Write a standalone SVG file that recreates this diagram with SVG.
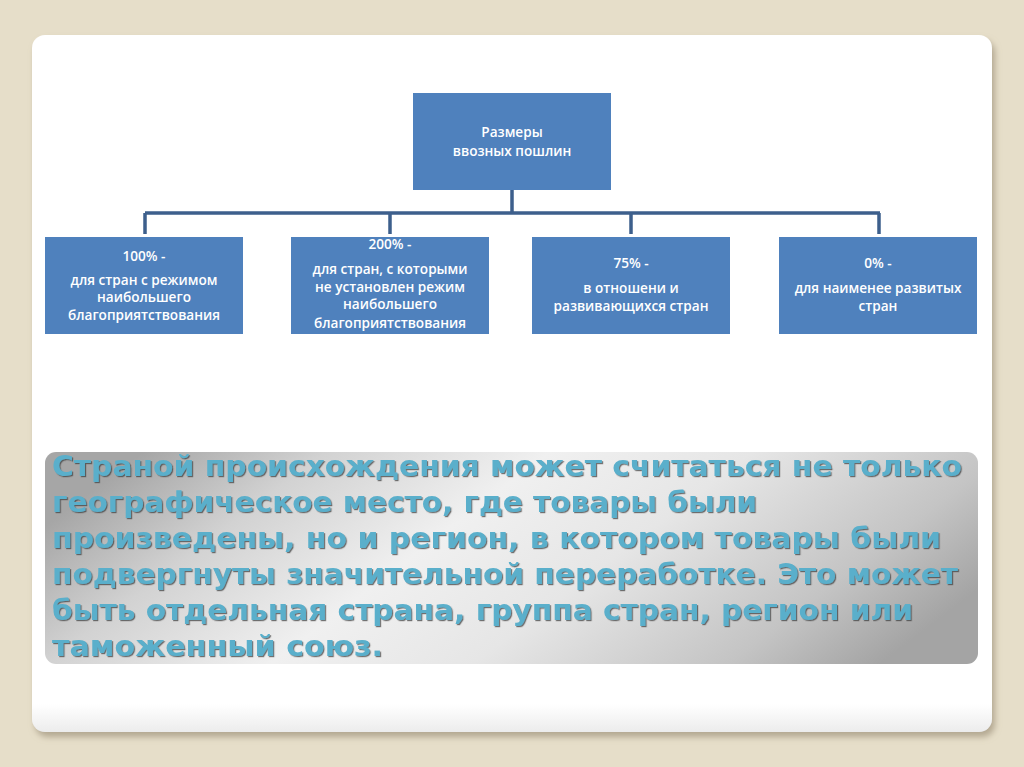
<svg xmlns="http://www.w3.org/2000/svg" width="1024" height="767" viewBox="0 0 1024 767">
<defs>
<style>
.box{fill:#4F81BD;}
.bt{fill:#FFFFFF;font-family:"Open Sans","Liberation Sans",sans-serif;font-size:13.6px;font-weight:600;text-anchor:middle;}
.conn{stroke:#3D5F8C;stroke-width:3.5;fill:none;}
.big{fill:#5AAFCB;font-family:"DejaVu Sans","Liberation Sans",sans-serif;font-weight:bold;font-size:28px;}
</style>
<filter id="cardShadow" x="-5%" y="-5%" width="110%" height="110%">
<feDropShadow dx="3" dy="5" stdDeviation="3" flood-color="#9E927A" flood-opacity="0.7"/>
</filter>
<filter id="txtShadow" x="-5%" y="-10%" width="110%" height="130%">
<feDropShadow dx="1.2" dy="1.2" stdDeviation="0.6" flood-color="#3A3A3A" flood-opacity="0.7"/>
</filter>
<linearGradient id="panelGrad" x1="0" y1="0.35" x2="1" y2="0.65">
<stop offset="0" stop-color="#A6A6A6"/>
<stop offset="0.18" stop-color="#D2D2D2"/>
<stop offset="0.4" stop-color="#F0F0F0"/>
<stop offset="0.6" stop-color="#E6E6E6"/>
<stop offset="0.85" stop-color="#C4C4C4"/>
<stop offset="1" stop-color="#A4A4A4"/>
</linearGradient>
<linearGradient id="cardGrad" x1="0" y1="0" x2="0" y2="1">
<stop offset="0.96" stop-color="#FFFFFF"/>
<stop offset="1" stop-color="#ECECEC"/>
</linearGradient>
</defs>
<rect x="0" y="0" width="1024" height="767" fill="#E6DEC9"/>
<rect x="32" y="35" width="960" height="697" rx="13" fill="url(#cardGrad)" filter="url(#cardShadow)"/>

<g id="connectors">
<path class="conn" d="M512 190 V213 M145 213 H880 M145 213 V234 M390 213 V234 M631 213 V234 M879 213 V234"/>
</g>

<g id="root">
<rect class="box" x="413" y="93" width="198" height="97"/>
<text class="bt" x="512" y="137">Размеры</text>
<text class="bt" x="512" y="156">ввозных пошлин</text>
</g>

<g id="n100">
<rect class="box" x="45" y="237" width="198" height="97"/>
<text class="bt" x="144" y="261">100% -</text>
<text class="bt" x="144" y="285">для стран с режимом</text>
<text class="bt" x="144" y="302">наибольшего</text>
<text class="bt" x="144" y="320">благоприятствования</text>
</g>

<g id="n200">
<rect class="box" x="291" y="237" width="198" height="97"/>
<text class="bt" x="390" y="249">200% -</text>
<text class="bt" x="390" y="274">для стран, с которыми</text>
<text class="bt" x="390" y="292">не установлен режим</text>
<text class="bt" x="390" y="309">наибольшего</text>
<text class="bt" x="390" y="328">благоприятствования</text>
</g>

<g id="n75">
<rect class="box" x="532" y="237" width="198" height="97"/>
<text class="bt" x="631" y="268">75% -</text>
<text class="bt" x="631" y="293">в отношени и</text>
<text class="bt" x="631" y="311">развивающихся стран</text>
</g>

<g id="n0">
<rect class="box" x="779" y="237" width="198" height="97"/>
<text class="bt" x="878" y="268">0% -</text>
<text class="bt" x="878" y="293">для наименее развитых</text>
<text class="bt" x="878" y="311">стран</text>
</g>

<g id="panel">
<rect x="45" y="452" width="933" height="212" rx="11" fill="url(#panelGrad)"/>
<g filter="url(#txtShadow)">
<text class="big" x="52" y="476" textLength="910" lengthAdjust="spacingAndGlyphs">Страной происхождения может считаться не только</text>
<text class="big" x="52" y="512" textLength="705" lengthAdjust="spacingAndGlyphs">географическое место, где товары были</text>
<text class="big" x="52" y="548" textLength="889" lengthAdjust="spacingAndGlyphs">произведены, но и регион, в котором товары были</text>
<text class="big" x="52" y="584" textLength="906" lengthAdjust="spacingAndGlyphs">подвергнуты значительной переработке. Это может</text>
<text class="big" x="52" y="620" textLength="861" lengthAdjust="spacingAndGlyphs">быть отдельная страна, группа стран, регион или</text>
<text class="big" x="52" y="656" textLength="331" lengthAdjust="spacingAndGlyphs">таможенный союз.</text>
</g>
</g>
</svg>
